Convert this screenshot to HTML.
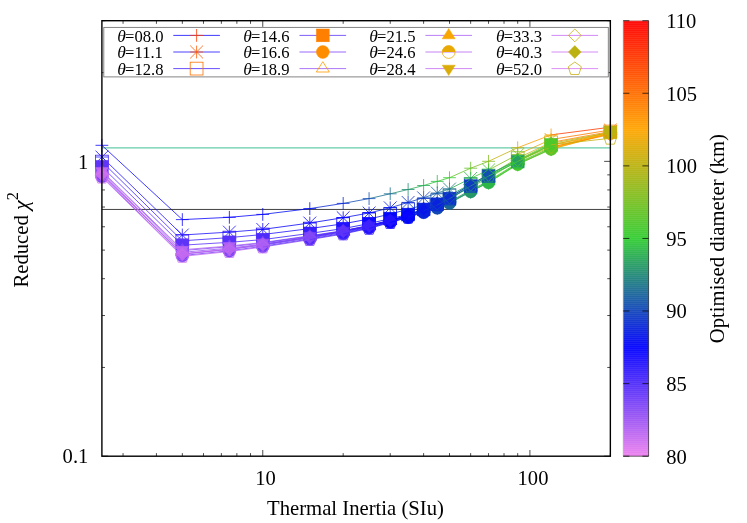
<!DOCTYPE html>
<html><head><meta charset="utf-8"><title>chart</title>
<style>html,body{margin:0;padding:0;background:#fff}svg{display:block;will-change:transform}text{font-family:"Liberation Serif",serif;fill:#000}</style></head><body>
<svg width="747" height="523" viewBox="0 0 747 523">
<rect width="747" height="523" fill="#fff"/>
<path d="M123.05 456.20v-3.10M123.05 20.70v3.10M156.43 456.20v-3.10M156.43 20.70v3.10M182.33 456.20v-3.10M182.33 20.70v3.10M203.48 456.20v-3.10M203.48 20.70v3.10M221.37 456.20v-3.10M221.37 20.70v3.10M236.86 456.20v-3.10M236.86 20.70v3.10M250.53 456.20v-3.10M250.53 20.70v3.10M262.75 456.20v-6.20M262.75 20.70v6.20M343.18 456.20v-3.10M343.18 20.70v3.10M390.23 456.20v-3.10M390.23 20.70v3.10M423.61 456.20v-3.10M423.61 20.70v3.10M449.50 456.20v-3.10M449.50 20.70v3.10M470.65 456.20v-3.10M470.65 20.70v3.10M488.54 456.20v-3.10M488.54 20.70v3.10M504.03 456.20v-3.10M504.03 20.70v3.10M517.70 456.20v-3.10M517.70 20.70v3.10M529.92 456.20v-6.20M529.92 20.70v6.20M610.35 456.20v-3.10M610.35 20.70v3.10M101.90 456.20h6.20M610.35 456.20h-6.20M101.90 367.45h3.10M610.35 367.45h-3.10M101.90 315.53h3.10M610.35 315.53h-3.10M101.90 278.69h3.10M610.35 278.69h-3.10M101.90 250.12h3.10M610.35 250.12h-3.10M101.90 226.78h3.10M610.35 226.78h-3.10M101.90 207.04h3.10M610.35 207.04h-3.10M101.90 189.94h3.10M610.35 189.94h-3.10M101.90 174.86h3.10M610.35 174.86h-3.10M101.90 161.37h6.20M610.35 161.37h-6.20M101.90 72.62h3.10M610.35 72.62h-3.10M101.90 20.70h3.10M610.35 20.70h-3.10" stroke="#000" stroke-width="0.7" fill="none"/>
<path d="M101.90 147.9H610.35" stroke="#66cdaa" stroke-width="1.35" fill="none"/>
<path d="M101.90 209.45H610.35" stroke="#000" stroke-width="0.75" fill="none"/>
<rect x="103.8" y="27.4" width="504.5" height="49.5" fill="#fff" stroke="#777" stroke-width="0.9"/>
<text x="117.3" y="41.5" font-size="16.6"><tspan font-style="italic" font-size="17.5">θ</tspan><tspan dx="-0.8">=08.0</tspan></text>
<path d="M173.3 35.4H219.9" stroke="#1009fe" stroke-width="0.8" fill="none"/>
<path fill="none" stroke="#ff3b00" stroke-width="0.8" d="M190.2 35.4H203M196.6 29V41.8"/>
<text x="117.3" y="58.1" font-size="16.6"><tspan font-style="italic" font-size="17.5">θ</tspan><tspan dx="-0.8">=11.1</tspan></text>
<path d="M173.3 52.0H219.9" stroke="#2011fd" stroke-width="0.8" fill="none"/>
<path fill="none" stroke="#ff5800" stroke-width="0.8" d="M190.2 52H203M196.6 45.6V58.4M190.2 45.6L203 58.4M190.2 58.4L203 45.6"/>
<text x="117.3" y="74.7" font-size="16.6"><tspan font-style="italic" font-size="17.5">θ</tspan><tspan dx="-0.8">=12.8</tspan></text>
<path d="M173.3 68.6H219.9" stroke="#4023fa" stroke-width="0.8" fill="none"/>
<rect fill="none" stroke="#ff7200" stroke-width="0.8" x="190.2" y="62.2" width="12.8" height="12.8"/>
<text x="243.3" y="41.5" font-size="16.6"><tspan font-style="italic" font-size="17.5">θ</tspan><tspan dx="-0.8">=14.6</tspan></text>
<path d="M299.5 35.4H346.1" stroke="#6135f8" stroke-width="0.8" fill="none"/>
<rect fill="#ff8000" stroke="#ff8000" stroke-width="0.48" x="316.4" y="29" width="12.8" height="12.8"/>
<text x="243.3" y="58.1" font-size="16.6"><tspan font-style="italic" font-size="17.5">θ</tspan><tspan dx="-0.8">=16.6</tspan></text>
<path d="M299.5 52.0H346.1" stroke="#7e45f6" stroke-width="0.8" fill="none"/>
<circle fill="#ff8d00" stroke="#ff8d00" stroke-width="0.48" cx="322.8" cy="52" r="6.4"/>
<text x="243.3" y="74.7" font-size="16.6"><tspan font-style="italic" font-size="17.5">θ</tspan><tspan dx="-0.8">=18.9</tspan></text>
<path d="M299.5 68.6H346.1" stroke="#9753f4" stroke-width="0.8" fill="none"/>
<path fill="none" stroke="#ff9a00" stroke-width="0.8" d="M322.8 61.7L316.3 72L329.3 72Z"/>
<text x="369.3" y="41.5" font-size="16.6"><tspan font-style="italic" font-size="17.5">θ</tspan><tspan dx="-0.8">=21.5</tspan></text>
<path d="M425.4 35.4H472.0" stroke="#ab5df3" stroke-width="0.8" fill="none"/>
<path fill="#faa601" stroke="#faa601" stroke-width="0.48" d="M448.7 28.5L442.2 38.8L455.2 38.8Z"/>
<text x="369.3" y="58.1" font-size="16.6"><tspan font-style="italic" font-size="17.5">θ</tspan><tspan dx="-0.8">=24.6</tspan></text>
<path d="M425.4 52.0H472.0" stroke="#b864f2" stroke-width="0.8" fill="none"/>
<circle fill="none" stroke="#e9a905" stroke-width="0.8" cx="448.7" cy="52" r="6.4"/><path fill="#e9a905" d="M442.3 52A6.4 6.4 0 0 1 455.1 52Z"/>
<text x="369.3" y="74.7" font-size="16.6"><tspan font-style="italic" font-size="17.5">θ</tspan><tspan dx="-0.8">=28.4</tspan></text>
<path d="M425.4 68.6H472.0" stroke="#c169f1" stroke-width="0.8" fill="none"/>
<path fill="#dbac09" stroke="#dbac09" stroke-width="0.48" d="M448.7 75.5L442.2 65.2L455.2 65.2Z"/>
<text x="495.9" y="41.5" font-size="16.6"><tspan font-style="italic" font-size="17.5">θ</tspan><tspan dx="-0.8">=33.3</tspan></text>
<path d="M551.5 35.4H598.1" stroke="#c66cf1" stroke-width="0.8" fill="none"/>
<path fill="none" stroke="#ceaf0c" stroke-width="0.8" d="M574.8 29L581.2 35.4L574.8 41.8L568.4 35.4Z"/>
<text x="495.9" y="58.1" font-size="16.6"><tspan font-style="italic" font-size="17.5">θ</tspan><tspan dx="-0.8">=40.3</tspan></text>
<path d="M551.5 52.0H598.1" stroke="#ca6ef1" stroke-width="0.8" fill="none"/>
<path fill="#bbb211" stroke="#bbb211" stroke-width="0.48" d="M574.8 45.6L581.2 52L574.8 58.4L568.4 52Z"/>
<text x="495.9" y="74.7" font-size="16.6"><tspan font-style="italic" font-size="17.5">θ</tspan><tspan dx="-0.8">=52.0</tspan></text>
<path d="M551.5 68.6H598.1" stroke="#d574f0" stroke-width="0.8" fill="none"/>
<path fill="none" stroke="#c6b00e" stroke-width="0.8" d="M574.8 62L581.36 66.77L578.86 74.48L570.74 74.48L568.24 66.77Z"/>
<g fill="none" stroke-width="0.8"><path d="M101.90 145.30L182.33 219.60" stroke="#1009fe"/><path d="M182.33 219.60L229.37 217.30" stroke="#0a05fe"/><path d="M229.37 217.30L262.75 214.40" stroke="#0302ff"/><path d="M262.75 214.40L309.80 208.60" stroke="#030ef1"/><path d="M309.80 208.60L343.18 203.40" stroke="#0a29d6"/><path d="M343.18 203.40L369.07 198.60" stroke="#134db2"/><path d="M369.07 198.60L390.23 193.80" stroke="#1b6d92"/><path d="M390.23 193.80L408.11 189.50" stroke="#238e71"/><path d="M408.11 189.50L423.61 185.50" stroke="#29a956"/><path d="M423.61 185.50L437.27 181.40" stroke="#2fbf40"/><path d="M437.27 181.40L449.50 177.70" stroke="#3acb30"/><path d="M449.50 177.70L470.65 168.20" stroke="#63c326"/><path d="M470.65 168.20L488.54 161.30" stroke="#84bd1e"/><path d="M488.54 161.30L517.70 147.70" stroke="#c8b00d"/><path d="M517.70 147.70L551.08 134.90" stroke="#ff9e00"/><path d="M551.08 134.90L610.35 127.20" stroke="#ff3b00"/></g>
<path fill="none" stroke="#1009fe" stroke-width="0.8" d="M95.5 145.3H108.3M101.9 138.9V151.7"/>
<path fill="none" stroke="#1009fe" stroke-width="0.8" d="M175.93 219.6H188.73M182.33 213.2V226"/>
<path fill="none" stroke="#0a05fe" stroke-width="0.8" d="M222.97 217.3H235.77M229.37 210.9V223.7"/>
<path fill="none" stroke="#0302ff" stroke-width="0.8" d="M256.35 214.4H269.15M262.75 208V220.8"/>
<path fill="none" stroke="#030ef1" stroke-width="0.8" d="M303.4 208.6H316.2M309.8 202.2V215"/>
<path fill="none" stroke="#0a29d6" stroke-width="0.8" d="M336.78 203.4H349.58M343.18 197V209.8"/>
<path fill="none" stroke="#134db2" stroke-width="0.8" d="M362.67 198.6H375.47M369.07 192.2V205"/>
<path fill="none" stroke="#1b6d92" stroke-width="0.8" d="M383.83 193.8H396.63M390.23 187.4V200.2"/>
<path fill="none" stroke="#238e71" stroke-width="0.8" d="M401.71 189.5H414.51M408.11 183.1V195.9"/>
<path fill="none" stroke="#29a956" stroke-width="0.8" d="M417.21 185.5H430.01M423.61 179.1V191.9"/>
<path fill="none" stroke="#2fbf40" stroke-width="0.8" d="M430.87 181.4H443.67M437.27 175V187.8"/>
<path fill="none" stroke="#3acb30" stroke-width="0.8" d="M443.1 177.7H455.9M449.5 171.3V184.1"/>
<path fill="none" stroke="#63c326" stroke-width="0.8" d="M464.25 168.2H477.05M470.65 161.8V174.6"/>
<path fill="none" stroke="#84bd1e" stroke-width="0.8" d="M482.14 161.3H494.94M488.54 154.9V167.7"/>
<path fill="none" stroke="#c8b00d" stroke-width="0.8" d="M511.3 147.7H524.1M517.7 141.3V154.1"/>
<path fill="none" stroke="#ff9e00" stroke-width="0.8" d="M544.68 134.9H557.48M551.08 128.5V141.3"/>
<path fill="none" stroke="#ff3b00" stroke-width="0.8" d="M603.95 127.2H616.75M610.35 120.8V133.6"/>
<g fill="none" stroke-width="0.8"><path d="M101.90 157.00L182.33 235.00" stroke="#2011fd"/><path d="M182.33 235.00L229.37 232.10" stroke="#1d10fd"/><path d="M229.37 232.10L262.75 229.40" stroke="#160cfd"/><path d="M262.75 229.40L309.80 223.00" stroke="#0a05fe"/><path d="M309.80 223.00L343.18 217.70" stroke="#0103fc"/><path d="M343.18 217.70L369.07 213.00" stroke="#030ef1"/><path d="M369.07 213.00L390.23 207.80" stroke="#071ee1"/><path d="M390.23 207.80L408.11 202.40" stroke="#0c31ce"/><path d="M408.11 202.40L423.61 197.80" stroke="#1144bb"/><path d="M423.61 197.80L437.27 193.00" stroke="#17609f"/><path d="M437.27 193.00L449.50 189.00" stroke="#1e7b84"/><path d="M449.50 189.00L470.65 178.40" stroke="#2bb24d"/><path d="M470.65 178.40L488.54 170.00" stroke="#40ca2f"/><path d="M488.54 170.00L517.70 154.50" stroke="#89bc1d"/><path d="M517.70 154.50L551.08 139.50" stroke="#e4aa07"/><path d="M551.08 139.50L610.35 130.00" stroke="#ff7700"/></g>
<path fill="none" stroke="#2011fd" stroke-width="0.8" d="M95.5 157H108.3M101.9 150.6V163.4M95.5 150.6L108.3 163.4M95.5 163.4L108.3 150.6"/>
<path fill="none" stroke="#2011fd" stroke-width="0.8" d="M175.93 235H188.73M182.33 228.6V241.4M175.93 228.6L188.73 241.4M175.93 241.4L188.73 228.6"/>
<path fill="none" stroke="#1d10fd" stroke-width="0.8" d="M222.97 232.1H235.77M229.37 225.7V238.5M222.97 225.7L235.77 238.5M222.97 238.5L235.77 225.7"/>
<path fill="none" stroke="#160cfd" stroke-width="0.8" d="M256.35 229.4H269.15M262.75 223V235.8M256.35 223L269.15 235.8M256.35 235.8L269.15 223"/>
<path fill="none" stroke="#0a05fe" stroke-width="0.8" d="M303.4 223H316.2M309.8 216.6V229.4M303.4 216.6L316.2 229.4M303.4 229.4L316.2 216.6"/>
<path fill="none" stroke="#0103fc" stroke-width="0.8" d="M336.78 217.7H349.58M343.18 211.3V224.1M336.78 211.3L349.58 224.1M336.78 224.1L349.58 211.3"/>
<path fill="none" stroke="#030ef1" stroke-width="0.8" d="M362.67 213H375.47M369.07 206.6V219.4M362.67 206.6L375.47 219.4M362.67 219.4L375.47 206.6"/>
<path fill="none" stroke="#071ee1" stroke-width="0.8" d="M383.83 207.8H396.63M390.23 201.4V214.2M383.83 201.4L396.63 214.2M383.83 214.2L396.63 201.4"/>
<path fill="none" stroke="#0c31ce" stroke-width="0.8" d="M401.71 202.4H414.51M408.11 196V208.8M401.71 196L414.51 208.8M401.71 208.8L414.51 196"/>
<path fill="none" stroke="#1144bb" stroke-width="0.8" d="M417.21 197.8H430.01M423.61 191.4V204.2M417.21 191.4L430.01 204.2M417.21 204.2L430.01 191.4"/>
<path fill="none" stroke="#17609f" stroke-width="0.8" d="M430.87 193H443.67M437.27 186.6V199.4M430.87 186.6L443.67 199.4M430.87 199.4L443.67 186.6"/>
<path fill="none" stroke="#1e7b84" stroke-width="0.8" d="M443.1 189H455.9M449.5 182.6V195.4M443.1 182.6L455.9 195.4M443.1 195.4L455.9 182.6"/>
<path fill="none" stroke="#2bb24d" stroke-width="0.8" d="M464.25 178.4H477.05M470.65 172V184.8M464.25 172L477.05 184.8M464.25 184.8L477.05 172"/>
<path fill="none" stroke="#40ca2f" stroke-width="0.8" d="M482.14 170H494.94M488.54 163.6V176.4M482.14 163.6L494.94 176.4M482.14 176.4L494.94 163.6"/>
<path fill="none" stroke="#89bc1d" stroke-width="0.8" d="M511.3 154.5H524.1M517.7 148.1V160.9M511.3 148.1L524.1 160.9M511.3 160.9L524.1 148.1"/>
<path fill="none" stroke="#e4aa07" stroke-width="0.8" d="M544.68 139.5H557.48M551.08 133.1V145.9M544.68 133.1L557.48 145.9M544.68 145.9L557.48 133.1"/>
<path fill="none" stroke="#ff7700" stroke-width="0.8" d="M603.95 130H616.75M610.35 123.6V136.4M603.95 123.6L616.75 136.4M603.95 136.4L616.75 123.6"/>
<g fill="none" stroke-width="0.8"><path d="M101.90 161.60L182.33 240.80" stroke="#3f22fb"/><path d="M182.33 240.80L229.37 237.60" stroke="#3a20fb"/><path d="M229.37 237.60L262.75 234.50" stroke="#331cfb"/><path d="M262.75 234.50L309.80 228.60" stroke="#2012fd"/><path d="M309.80 228.60L343.18 223.80" stroke="#0f08fe"/><path d="M343.18 223.80L369.07 219.00" stroke="#0001fe"/><path d="M369.07 219.00L390.23 214.00" stroke="#0513ec"/><path d="M390.23 214.00L408.11 209.30" stroke="#0925da"/><path d="M408.11 209.30L423.61 205.00" stroke="#0d37c8"/><path d="M423.61 205.00L437.27 200.20" stroke="#1450af"/><path d="M437.27 200.20L449.50 195.40" stroke="#1a6b94"/><path d="M449.50 195.40L470.65 184.00" stroke="#27a15e"/><path d="M470.65 184.00L488.54 175.50" stroke="#31ca35"/><path d="M488.54 175.50L517.70 158.20" stroke="#79bf21"/><path d="M517.70 158.20L551.08 142.40" stroke="#d3ae0b"/><path d="M551.08 142.40L610.35 131.50" stroke="#ff8400"/></g>
<rect fill="none" stroke="#4023fa" stroke-width="0.8" x="95.5" y="155.2" width="12.8" height="12.8"/>
<rect fill="none" stroke="#3f22fb" stroke-width="0.8" x="175.93" y="234.4" width="12.8" height="12.8"/>
<rect fill="none" stroke="#3a20fb" stroke-width="0.8" x="222.97" y="231.2" width="12.8" height="12.8"/>
<rect fill="none" stroke="#331cfb" stroke-width="0.8" x="256.35" y="228.1" width="12.8" height="12.8"/>
<rect fill="none" stroke="#2012fd" stroke-width="0.8" x="303.4" y="222.2" width="12.8" height="12.8"/>
<rect fill="none" stroke="#0f08fe" stroke-width="0.8" x="336.78" y="217.4" width="12.8" height="12.8"/>
<rect fill="none" stroke="#0001fe" stroke-width="0.8" x="362.67" y="212.6" width="12.8" height="12.8"/>
<rect fill="none" stroke="#0513ec" stroke-width="0.8" x="383.83" y="207.6" width="12.8" height="12.8"/>
<rect fill="none" stroke="#0925da" stroke-width="0.8" x="401.71" y="202.9" width="12.8" height="12.8"/>
<rect fill="none" stroke="#0d37c8" stroke-width="0.8" x="417.21" y="198.6" width="12.8" height="12.8"/>
<rect fill="none" stroke="#1450af" stroke-width="0.8" x="430.87" y="193.8" width="12.8" height="12.8"/>
<rect fill="none" stroke="#1a6b94" stroke-width="0.8" x="443.1" y="189" width="12.8" height="12.8"/>
<rect fill="none" stroke="#27a15e" stroke-width="0.8" x="464.25" y="177.6" width="12.8" height="12.8"/>
<rect fill="none" stroke="#31ca35" stroke-width="0.8" x="482.14" y="169.1" width="12.8" height="12.8"/>
<rect fill="none" stroke="#79bf21" stroke-width="0.8" x="511.3" y="151.8" width="12.8" height="12.8"/>
<rect fill="none" stroke="#d3ae0b" stroke-width="0.8" x="544.68" y="136" width="12.8" height="12.8"/>
<rect fill="none" stroke="#ff8400" stroke-width="0.8" x="603.95" y="125.1" width="12.8" height="12.8"/>
<g fill="none" stroke-width="0.8"><path d="M101.90 166.80L182.33 245.20" stroke="#5d33f8"/><path d="M182.33 245.20L229.37 242.30" stroke="#5830f9"/><path d="M229.37 242.30L262.75 239.60" stroke="#4f2bf9"/><path d="M262.75 239.60L309.80 233.40" stroke="#371efb"/><path d="M309.80 233.40L343.18 228.60" stroke="#2112fd"/><path d="M343.18 228.60L369.07 223.60" stroke="#0e08fe"/><path d="M369.07 223.60L390.23 218.60" stroke="#0208f7"/><path d="M390.23 218.60L408.11 214.55" stroke="#0412ed"/><path d="M408.11 214.55L423.61 209.44" stroke="#0820df"/><path d="M423.61 209.44L437.27 204.29" stroke="#0a29d6"/><path d="M437.27 204.29L449.50 198.58" stroke="#0c30cf"/><path d="M449.50 198.58L470.65 186.10" stroke="#0f3cc3"/><path d="M470.65 186.10L488.54 176.20" stroke="#134fb0"/><path d="M488.54 176.20L517.70 161.60" stroke="#279f60"/><path d="M517.70 161.60L551.08 144.90" stroke="#4dc82b"/><path d="M551.08 144.90L610.35 132.40" stroke="#bbb211"/></g>
<rect fill="#6135f8" stroke="#6135f8" stroke-width="0.48" x="95.5" y="160.4" width="12.8" height="12.8"/>
<rect fill="#5d33f8" stroke="#5d33f8" stroke-width="0.48" x="175.93" y="238.8" width="12.8" height="12.8"/>
<rect fill="#5830f9" stroke="#5830f9" stroke-width="0.48" x="222.97" y="235.9" width="12.8" height="12.8"/>
<rect fill="#4f2bf9" stroke="#4f2bf9" stroke-width="0.48" x="256.35" y="233.2" width="12.8" height="12.8"/>
<rect fill="#371efb" stroke="#371efb" stroke-width="0.48" x="303.4" y="227" width="12.8" height="12.8"/>
<rect fill="#2112fd" stroke="#2112fd" stroke-width="0.48" x="336.78" y="222.2" width="12.8" height="12.8"/>
<rect fill="#0e08fe" stroke="#0e08fe" stroke-width="0.48" x="362.67" y="217.2" width="12.8" height="12.8"/>
<rect fill="#0208f7" stroke="#0208f7" stroke-width="0.48" x="383.83" y="212.2" width="12.8" height="12.8"/>
<rect fill="#0412ed" stroke="#0412ed" stroke-width="0.48" x="401.71" y="208.15" width="12.8" height="12.8"/>
<g fill="none" stroke-width="0.8"><path d="M101.90 176.40L182.33 255.57" stroke="#7942f6"/><path d="M182.33 255.57L229.37 250.75" stroke="#723ef7"/><path d="M229.37 250.75L262.75 246.32" stroke="#6939f8"/><path d="M262.75 246.32L309.80 238.97" stroke="#4c29fa"/><path d="M309.80 238.97L343.18 233.40" stroke="#321bfb"/><path d="M343.18 233.40L369.07 227.82" stroke="#1b0ffd"/><path d="M369.07 227.82L390.23 222.06" stroke="#0101ff"/><path d="M390.23 222.06L408.11 217.30" stroke="#0514eb"/><path d="M408.11 217.30L423.61 212.34" stroke="#0b2fd0"/><path d="M423.61 212.34L437.27 207.87" stroke="#134cb3"/><path d="M437.27 207.87L449.50 203.09" stroke="#1a6996"/><path d="M449.50 203.09L470.65 191.50" stroke="#259669"/><path d="M470.65 191.50L488.54 182.40" stroke="#2db748"/><path d="M488.54 182.40L517.70 164.20" stroke="#45c92d"/><path d="M517.70 164.20L551.08 149.00" stroke="#5ec427"/><path d="M551.08 149.00L610.35 133.20" stroke="#f7a702"/></g>
<circle fill="#7e45f6" stroke="#7e45f6" stroke-width="0.48" cx="101.9" cy="176.4" r="6.4"/>
<circle fill="#7942f6" stroke="#7942f6" stroke-width="0.48" cx="182.33" cy="255.57" r="6.4"/>
<circle fill="#723ef7" stroke="#723ef7" stroke-width="0.48" cx="229.37" cy="250.75" r="6.4"/>
<circle fill="#6939f8" stroke="#6939f8" stroke-width="0.48" cx="262.75" cy="246.32" r="6.4"/>
<circle fill="#4c29fa" stroke="#4c29fa" stroke-width="0.48" cx="309.8" cy="238.97" r="6.4"/>
<circle fill="#321bfb" stroke="#321bfb" stroke-width="0.48" cx="343.18" cy="233.4" r="6.4"/>
<circle fill="#1b0ffd" stroke="#1b0ffd" stroke-width="0.48" cx="369.07" cy="227.82" r="6.4"/>
<circle fill="#0101ff" stroke="#0101ff" stroke-width="0.48" cx="390.23" cy="222.06" r="6.4"/>
<circle fill="#0514eb" stroke="#0514eb" stroke-width="0.48" cx="408.11" cy="217.3" r="6.4"/>
<circle fill="#0b2fd0" stroke="#0b2fd0" stroke-width="0.48" cx="423.61" cy="212.34" r="6.4"/>
<circle fill="#134cb3" stroke="#134cb3" stroke-width="0.48" cx="437.27" cy="207.87" r="6.4"/>
<circle fill="#1a6996" stroke="#1a6996" stroke-width="0.48" cx="449.5" cy="203.09" r="6.4"/>
<circle fill="#259669" stroke="#259669" stroke-width="0.48" cx="470.65" cy="191.5" r="6.4"/>
<circle fill="#2db748" stroke="#2db748" stroke-width="0.48" cx="488.54" cy="182.4" r="6.4"/>
<circle fill="#45c92d" stroke="#45c92d" stroke-width="0.48" cx="517.7" cy="164.2" r="6.4"/>
<circle fill="#5ec427" stroke="#5ec427" stroke-width="0.48" cx="551.08" cy="149" r="6.4"/>
<circle fill="#f7a702" stroke="#f7a702" stroke-width="0.48" cx="610.35" cy="133.2" r="6.4"/>
<g fill="none" stroke-width="0.8"><path d="M101.90 171.80L182.33 250.60" stroke="#914ff5"/><path d="M182.33 250.60L229.37 246.70" stroke="#894bf5"/><path d="M229.37 246.70L262.75 243.10" stroke="#7f45f6"/><path d="M262.75 243.10L309.80 236.30" stroke="#5d33f8"/><path d="M309.80 236.30L343.18 231.10" stroke="#4023fa"/><path d="M343.18 231.10L369.07 225.80" stroke="#2715fc"/><path d="M369.07 225.80L390.23 220.40" stroke="#0b06fe"/><path d="M390.23 220.40L408.11 214.69" stroke="#0513ec"/><path d="M408.11 214.69L423.61 209.00" stroke="#0d36c9"/><path d="M423.61 209.00L437.27 203.81" stroke="#1557a8"/><path d="M437.27 203.81L449.50 198.68" stroke="#1d7788"/><path d="M449.50 198.68L470.65 186.95" stroke="#29a758"/><path d="M470.65 186.95L488.54 178.15" stroke="#31c837"/><path d="M488.54 178.15L517.70 160.40" stroke="#56c629"/><path d="M517.70 160.40L551.08 144.90" stroke="#6ec123"/><path d="M551.08 144.90L610.35 133.90" stroke="#ff9e00"/></g>
<path fill="none" stroke="#9753f4" stroke-width="0.8" d="M101.9 164.9L95.4 175.2L108.4 175.2Z"/>
<path fill="none" stroke="#914ff5" stroke-width="0.8" d="M182.33 243.7L175.83 254L188.83 254Z"/>
<path fill="none" stroke="#894bf5" stroke-width="0.8" d="M229.37 239.8L222.87 250.1L235.87 250.1Z"/>
<path fill="none" stroke="#7f45f6" stroke-width="0.8" d="M262.75 236.2L256.25 246.5L269.25 246.5Z"/>
<path fill="none" stroke="#5d33f8" stroke-width="0.8" d="M309.8 229.4L303.3 239.7L316.3 239.7Z"/>
<path fill="none" stroke="#4023fa" stroke-width="0.8" d="M343.18 224.2L336.68 234.5L349.68 234.5Z"/>
<path fill="none" stroke="#2715fc" stroke-width="0.8" d="M369.07 218.9L362.57 229.2L375.57 229.2Z"/>
<path fill="none" stroke="#0b06fe" stroke-width="0.8" d="M390.23 213.5L383.73 223.8L396.73 223.8Z"/>
<path fill="none" stroke="#0513ec" stroke-width="0.8" d="M408.11 207.78L401.61 218.09L414.61 218.09Z"/>
<path fill="none" stroke="#0d36c9" stroke-width="0.8" d="M423.61 202.1L417.11 212.4L430.11 212.4Z"/>
<path fill="none" stroke="#1557a8" stroke-width="0.8" d="M437.27 196.91L430.77 207.22L443.77 207.22Z"/>
<path fill="none" stroke="#1d7788" stroke-width="0.8" d="M449.5 191.78L443 202.08L456 202.08Z"/>
<path fill="none" stroke="#29a758" stroke-width="0.8" d="M470.65 180.05L464.15 190.35L477.15 190.35Z"/>
<path fill="none" stroke="#31c837" stroke-width="0.8" d="M488.54 171.25L482.04 181.55L495.04 181.55Z"/>
<path fill="none" stroke="#56c629" stroke-width="0.8" d="M517.7 153.5L511.2 163.8L524.2 163.8Z"/>
<path fill="none" stroke="#6ec123" stroke-width="0.8" d="M551.08 138L544.58 148.3L557.58 148.3Z"/>
<path fill="none" stroke="#ff9e00" stroke-width="0.8" d="M610.35 127L603.85 137.3L616.85 137.3Z"/>
<g fill="none" stroke-width="0.8"><path d="M101.90 173.40L182.33 252.33" stroke="#a459f3"/><path d="M182.33 252.33L229.37 248.11" stroke="#9c55f4"/><path d="M229.37 248.11L262.75 244.22" stroke="#904ff5"/><path d="M262.75 244.22L309.80 237.23" stroke="#6b3bf7"/><path d="M309.80 237.23L343.18 231.90" stroke="#4b29fa"/><path d="M343.18 231.90L369.07 226.50" stroke="#301afc"/><path d="M369.07 226.50L390.23 220.98" stroke="#130afe"/><path d="M390.23 220.98L408.11 216.12" stroke="#020af5"/><path d="M408.11 216.12L423.61 211.08" stroke="#0a2ad5"/><path d="M423.61 211.08L437.27 206.53" stroke="#1249b6"/><path d="M437.27 206.53L449.50 201.71" stroke="#196798"/><path d="M449.50 201.71L470.65 190.10" stroke="#259669"/><path d="M470.65 190.10L488.54 181.00" stroke="#2db748"/><path d="M488.54 181.00L517.70 162.80" stroke="#45c92d"/><path d="M517.70 162.80L551.08 147.60" stroke="#5ec427"/><path d="M551.08 147.60L610.35 131.80" stroke="#f7a702"/></g>
<path fill="#ab5df3" stroke="#ab5df3" stroke-width="0.48" d="M101.9 166.5L95.4 176.8L108.4 176.8Z"/>
<path fill="#a459f3" stroke="#a459f3" stroke-width="0.48" d="M182.33 245.43L175.83 255.73L188.83 255.73Z"/>
<path fill="#9c55f4" stroke="#9c55f4" stroke-width="0.48" d="M229.37 241.21L222.87 251.51L235.87 251.51Z"/>
<path fill="#904ff5" stroke="#904ff5" stroke-width="0.48" d="M262.75 237.32L256.25 247.62L269.25 247.62Z"/>
<path fill="#6b3bf7" stroke="#6b3bf7" stroke-width="0.48" d="M309.8 230.33L303.3 240.63L316.3 240.63Z"/>
<path fill="#4b29fa" stroke="#4b29fa" stroke-width="0.48" d="M343.18 225L336.68 235.3L349.68 235.3Z"/>
<path fill="#301afc" stroke="#301afc" stroke-width="0.48" d="M369.07 219.6L362.57 229.9L375.57 229.9Z"/>
<path fill="#130afe" stroke="#130afe" stroke-width="0.48" d="M390.23 214.08L383.73 224.38L396.73 224.38Z"/>
<path fill="#020af5" stroke="#020af5" stroke-width="0.48" d="M408.11 209.22L401.61 219.52L414.61 219.52Z"/>
<path fill="#0a2ad5" stroke="#0a2ad5" stroke-width="0.48" d="M423.61 204.18L417.11 214.48L430.11 214.48Z"/>
<path fill="#1249b6" stroke="#1249b6" stroke-width="0.48" d="M437.27 199.63L430.77 209.93L443.77 209.93Z"/>
<path fill="#196798" stroke="#196798" stroke-width="0.48" d="M449.5 194.81L443 205.11L456 205.11Z"/>
<path fill="#259669" stroke="#259669" stroke-width="0.48" d="M470.65 183.2L464.15 193.5L477.15 193.5Z"/>
<path fill="#2db748" stroke="#2db748" stroke-width="0.48" d="M488.54 174.1L482.04 184.4L495.04 184.4Z"/>
<path fill="#45c92d" stroke="#45c92d" stroke-width="0.48" d="M517.7 155.9L511.2 166.2L524.2 166.2Z"/>
<path fill="#5ec427" stroke="#5ec427" stroke-width="0.48" d="M551.08 140.7L544.58 151L557.58 151Z"/>
<path fill="#f7a702" stroke="#f7a702" stroke-width="0.48" d="M610.35 124.9L603.85 135.2L616.85 135.2Z"/>
<g fill="none" stroke-width="0.8"><path d="M101.90 174.80L182.33 253.84" stroke="#b060f2"/><path d="M182.33 253.84L229.37 249.34" stroke="#a75bf3"/><path d="M229.37 249.34L262.75 245.20" stroke="#9b55f4"/><path d="M262.75 245.20L309.80 238.04" stroke="#743ff7"/><path d="M309.80 238.04L343.18 232.60" stroke="#522df9"/><path d="M343.18 232.60L369.07 227.12" stroke="#351dfb"/><path d="M369.07 227.12L390.23 221.48" stroke="#180dfd"/><path d="M390.23 221.48L408.11 216.72" stroke="#0207f8"/><path d="M408.11 216.72L423.61 211.76" stroke="#0a28d7"/><path d="M423.61 211.76L437.27 207.27" stroke="#1248b7"/><path d="M437.27 207.27L449.50 202.49" stroke="#196798"/><path d="M449.50 202.49L470.65 190.90" stroke="#259669"/><path d="M470.65 190.90L488.54 181.80" stroke="#2db748"/><path d="M488.54 181.80L517.70 163.60" stroke="#45c92d"/><path d="M517.70 163.60L551.08 148.40" stroke="#5ec427"/><path d="M551.08 148.40L610.35 132.60" stroke="#f7a702"/></g>
<circle fill="none" stroke="#b864f2" stroke-width="0.8" cx="101.9" cy="174.8" r="6.4"/><path fill="#b864f2" d="M95.5 174.8A6.4 6.4 0 0 1 108.3 174.8Z"/>
<circle fill="none" stroke="#b060f2" stroke-width="0.8" cx="182.33" cy="253.84" r="6.4"/><path fill="#b060f2" d="M175.93 253.84A6.4 6.4 0 0 1 188.73 253.84Z"/>
<circle fill="none" stroke="#a75bf3" stroke-width="0.8" cx="229.37" cy="249.34" r="6.4"/><path fill="#a75bf3" d="M222.97 249.34A6.4 6.4 0 0 1 235.77 249.34Z"/>
<circle fill="none" stroke="#9b55f4" stroke-width="0.8" cx="262.75" cy="245.2" r="6.4"/><path fill="#9b55f4" d="M256.35 245.2A6.4 6.4 0 0 1 269.15 245.2Z"/>
<circle fill="none" stroke="#743ff7" stroke-width="0.8" cx="309.8" cy="238.04" r="6.4"/><path fill="#743ff7" d="M303.4 238.04A6.4 6.4 0 0 1 316.2 238.04Z"/>
<circle fill="none" stroke="#522df9" stroke-width="0.8" cx="343.18" cy="232.6" r="6.4"/><path fill="#522df9" d="M336.78 232.6A6.4 6.4 0 0 1 349.58 232.6Z"/>
<circle fill="none" stroke="#351dfb" stroke-width="0.8" cx="369.07" cy="227.12" r="6.4"/><path fill="#351dfb" d="M362.67 227.12A6.4 6.4 0 0 1 375.47 227.12Z"/>
<circle fill="none" stroke="#180dfd" stroke-width="0.8" cx="390.23" cy="221.48" r="6.4"/><path fill="#180dfd" d="M383.83 221.48A6.4 6.4 0 0 1 396.63 221.48Z"/>
<circle fill="none" stroke="#0207f8" stroke-width="0.8" cx="408.11" cy="216.72" r="6.4"/><path fill="#0207f8" d="M401.71 216.72A6.4 6.4 0 0 1 414.51 216.72Z"/>
<circle fill="none" stroke="#0a28d7" stroke-width="0.8" cx="423.61" cy="211.76" r="6.4"/><path fill="#0a28d7" d="M417.21 211.76A6.4 6.4 0 0 1 430.01 211.76Z"/>
<circle fill="none" stroke="#1248b7" stroke-width="0.8" cx="437.27" cy="207.27" r="6.4"/><path fill="#1248b7" d="M430.87 207.27A6.4 6.4 0 0 1 443.67 207.27Z"/>
<circle fill="none" stroke="#196798" stroke-width="0.8" cx="449.5" cy="202.49" r="6.4"/><path fill="#196798" d="M443.1 202.49A6.4 6.4 0 0 1 455.9 202.49Z"/>
<circle fill="none" stroke="#259669" stroke-width="0.8" cx="470.65" cy="190.9" r="6.4"/><path fill="#259669" d="M464.25 190.9A6.4 6.4 0 0 1 477.05 190.9Z"/>
<circle fill="none" stroke="#2db748" stroke-width="0.8" cx="488.54" cy="181.8" r="6.4"/><path fill="#2db748" d="M482.14 181.8A6.4 6.4 0 0 1 494.94 181.8Z"/>
<circle fill="none" stroke="#45c92d" stroke-width="0.8" cx="517.7" cy="163.6" r="6.4"/><path fill="#45c92d" d="M511.3 163.6A6.4 6.4 0 0 1 524.1 163.6Z"/>
<circle fill="none" stroke="#5ec427" stroke-width="0.8" cx="551.08" cy="148.4" r="6.4"/><path fill="#5ec427" d="M544.68 148.4A6.4 6.4 0 0 1 557.48 148.4Z"/>
<circle fill="none" stroke="#f7a702" stroke-width="0.8" cx="610.35" cy="132.6" r="6.4"/><path fill="#f7a702" d="M603.95 132.6A6.4 6.4 0 0 1 616.75 132.6Z"/>
<g fill="none" stroke-width="0.8"><path d="M101.90 171.00L182.33 249.74" stroke="#b865f2"/><path d="M182.33 249.74L229.37 246.00" stroke="#af60f2"/><path d="M229.37 246.00L262.75 242.54" stroke="#a359f3"/><path d="M262.75 242.54L309.80 235.84" stroke="#7a43f6"/><path d="M309.80 235.84L343.18 230.70" stroke="#5730f9"/><path d="M343.18 230.70L369.07 225.45" stroke="#3a1ffb"/><path d="M369.07 225.45L390.23 220.11" stroke="#1b0ffd"/><path d="M390.23 220.11L408.11 216.00" stroke="#0105fa"/><path d="M408.11 216.00L423.61 211.71" stroke="#0a27d8"/><path d="M423.61 211.71L437.27 207.64" stroke="#1147b8"/><path d="M437.27 207.64L449.50 203.11" stroke="#196699"/><path d="M449.50 203.11L470.65 191.70" stroke="#259669"/><path d="M470.65 191.70L488.54 182.60" stroke="#2db748"/><path d="M488.54 182.60L517.70 164.40" stroke="#45c92d"/><path d="M517.70 164.40L551.08 149.20" stroke="#5ec427"/><path d="M551.08 149.20L610.35 133.40" stroke="#f7a702"/></g>
<path fill="#c169f1" stroke="#c169f1" stroke-width="0.48" d="M101.9 177.9L95.4 167.6L108.4 167.6Z"/>
<path fill="#b865f2" stroke="#b865f2" stroke-width="0.48" d="M182.33 256.64L175.83 246.34L188.83 246.34Z"/>
<path fill="#af60f2" stroke="#af60f2" stroke-width="0.48" d="M229.37 252.9L222.87 242.6L235.87 242.6Z"/>
<path fill="#a359f3" stroke="#a359f3" stroke-width="0.48" d="M262.75 249.44L256.25 239.14L269.25 239.14Z"/>
<path fill="#7a43f6" stroke="#7a43f6" stroke-width="0.48" d="M309.8 242.74L303.3 232.44L316.3 232.44Z"/>
<path fill="#5730f9" stroke="#5730f9" stroke-width="0.48" d="M343.18 237.6L336.68 227.3L349.68 227.3Z"/>
<path fill="#3a1ffb" stroke="#3a1ffb" stroke-width="0.48" d="M369.07 232.35L362.57 222.05L375.57 222.05Z"/>
<path fill="#1b0ffd" stroke="#1b0ffd" stroke-width="0.48" d="M390.23 227.01L383.73 216.71L396.73 216.71Z"/>
<path fill="#0105fa" stroke="#0105fa" stroke-width="0.48" d="M408.11 222.9L401.61 212.6L414.61 212.6Z"/>
<path fill="#0a27d8" stroke="#0a27d8" stroke-width="0.48" d="M423.61 218.61L417.11 208.31L430.11 208.31Z"/>
<path fill="#1147b8" stroke="#1147b8" stroke-width="0.48" d="M437.27 214.54L430.77 204.24L443.77 204.24Z"/>
<path fill="#196699" stroke="#196699" stroke-width="0.48" d="M449.5 210.01L443 199.71L456 199.71Z"/>
<path fill="#259669" stroke="#259669" stroke-width="0.48" d="M470.65 198.6L464.15 188.3L477.15 188.3Z"/>
<path fill="#2db748" stroke="#2db748" stroke-width="0.48" d="M488.54 189.5L482.04 179.2L495.04 179.2Z"/>
<path fill="#45c92d" stroke="#45c92d" stroke-width="0.48" d="M517.7 171.3L511.2 161L524.2 161Z"/>
<path fill="#5ec427" stroke="#5ec427" stroke-width="0.48" d="M551.08 156.1L544.58 145.8L557.58 145.8Z"/>
<path fill="#f7a702" stroke="#f7a702" stroke-width="0.48" d="M610.35 140.3L603.85 130L616.85 130Z"/>
<rect fill="#0820df" stroke="#0820df" stroke-width="0.48" x="417.21" y="203.04" width="12.8" height="12.8"/>
<rect fill="#0a29d6" stroke="#0a29d6" stroke-width="0.48" x="430.87" y="197.89" width="12.8" height="12.8"/>
<rect fill="#0c30cf" stroke="#0c30cf" stroke-width="0.48" x="443.1" y="192.18" width="12.8" height="12.8"/>
<rect fill="#0f3cc3" stroke="#0f3cc3" stroke-width="0.48" x="464.25" y="179.7" width="12.8" height="12.8"/>
<rect fill="#134fb0" stroke="#134fb0" stroke-width="0.48" x="482.14" y="169.8" width="12.8" height="12.8"/>
<rect fill="#279f60" stroke="#279f60" stroke-width="0.48" x="511.3" y="155.2" width="12.8" height="12.8"/>
<rect fill="#4dc82b" stroke="#4dc82b" stroke-width="0.48" x="544.68" y="138.5" width="12.8" height="12.8"/>
<rect fill="#bbb211" stroke="#bbb211" stroke-width="0.48" x="603.95" y="126" width="12.8" height="12.8"/>
<g fill="none" stroke-width="0.8"><path d="M101.90 174.40L182.33 254.30" stroke="#bd67f1"/><path d="M182.33 254.30L229.37 249.40" stroke="#b463f2"/><path d="M229.37 249.40L262.75 244.80" stroke="#a85cf3"/><path d="M262.75 244.80L309.80 237.40" stroke="#7e45f6"/><path d="M309.80 237.40L343.18 231.40" stroke="#5a31f9"/><path d="M343.18 231.40L369.07 226.20" stroke="#3c21fb"/><path d="M369.07 226.20L390.23 220.80" stroke="#1d10fd"/><path d="M390.23 220.80L408.11 215.81" stroke="#0002fd"/><path d="M408.11 215.81L423.61 209.44" stroke="#0822dd"/><path d="M423.61 209.44L437.27 203.62" stroke="#1145ba"/><path d="M437.27 203.62L449.50 197.47" stroke="#1a6996"/><path d="M449.50 197.47L470.65 184.70" stroke="#259669"/><path d="M470.65 184.70L488.54 174.80" stroke="#2bb24d"/><path d="M488.54 174.80L517.70 160.20" stroke="#4dc82b"/><path d="M517.70 160.20L551.08 147.10" stroke="#a8b615"/><path d="M551.08 147.10L610.35 134.60" stroke="#ff8800"/></g>
<path fill="none" stroke="#c66cf1" stroke-width="0.8" d="M101.9 168L108.3 174.4L101.9 180.8L95.5 174.4Z"/>
<path fill="none" stroke="#bd67f1" stroke-width="0.8" d="M182.33 247.9L188.73 254.3L182.33 260.7L175.93 254.3Z"/>
<path fill="none" stroke="#b463f2" stroke-width="0.8" d="M229.37 243L235.77 249.4L229.37 255.8L222.97 249.4Z"/>
<path fill="none" stroke="#a85cf3" stroke-width="0.8" d="M262.75 238.4L269.15 244.8L262.75 251.2L256.35 244.8Z"/>
<path fill="none" stroke="#7e45f6" stroke-width="0.8" d="M309.8 231L316.2 237.4L309.8 243.8L303.4 237.4Z"/>
<path fill="none" stroke="#5a31f9" stroke-width="0.8" d="M343.18 225L349.58 231.4L343.18 237.8L336.78 231.4Z"/>
<path fill="none" stroke="#3c21fb" stroke-width="0.8" d="M369.07 219.8L375.47 226.2L369.07 232.6L362.67 226.2Z"/>
<path fill="none" stroke="#1d10fd" stroke-width="0.8" d="M390.23 214.4L396.63 220.8L390.23 227.2L383.83 220.8Z"/>
<path fill="none" stroke="#0002fd" stroke-width="0.8" d="M408.11 209.41L414.51 215.81L408.11 222.21L401.71 215.81Z"/>
<path fill="none" stroke="#a8b615" stroke-width="0.8" d="M551.08 140.7L557.48 147.1L551.08 153.5L544.68 147.1Z"/>
<path fill="none" stroke="#ff8800" stroke-width="0.8" d="M610.35 128.2L616.75 134.6L610.35 141L603.95 134.6Z"/>
<g fill="none" stroke-width="0.8"><path d="M101.90 174.00L182.33 253.90" stroke="#c169f1"/><path d="M182.33 253.90L229.37 249.00" stroke="#b864f2"/><path d="M229.37 249.00L262.75 244.40" stroke="#ab5ef3"/><path d="M262.75 244.40L309.80 237.00" stroke="#8146f6"/><path d="M309.80 237.00L343.18 231.00" stroke="#5c32f8"/><path d="M343.18 231.00L369.07 225.80" stroke="#3e22fb"/><path d="M369.07 225.80L390.23 220.40" stroke="#1f11fd"/><path d="M390.23 220.40L408.11 215.50" stroke="#0704ff"/><path d="M408.11 215.50L423.61 209.22" stroke="#0514eb"/><path d="M423.61 209.22L437.27 203.46" stroke="#0822dd"/><path d="M437.27 203.46L449.50 197.34" stroke="#0b2cd3"/><path d="M449.50 197.34L470.65 184.60" stroke="#0f3cc3"/><path d="M470.65 184.60L488.54 174.70" stroke="#134fb0"/><path d="M488.54 174.70L517.70 160.10" stroke="#279f60"/><path d="M517.70 160.10L551.08 143.40" stroke="#4dc82b"/><path d="M551.08 143.40L610.35 132.40" stroke="#bbb211"/></g>
<path fill="#ca6ef1" stroke="#ca6ef1" stroke-width="0.48" d="M101.9 167.6L108.3 174L101.9 180.4L95.5 174Z"/>
<path fill="#c169f1" stroke="#c169f1" stroke-width="0.48" d="M182.33 247.5L188.73 253.9L182.33 260.3L175.93 253.9Z"/>
<path fill="#b864f2" stroke="#b864f2" stroke-width="0.48" d="M229.37 242.6L235.77 249L229.37 255.4L222.97 249Z"/>
<path fill="#ab5ef3" stroke="#ab5ef3" stroke-width="0.48" d="M262.75 238L269.15 244.4L262.75 250.8L256.35 244.4Z"/>
<path fill="#8146f6" stroke="#8146f6" stroke-width="0.48" d="M309.8 230.6L316.2 237L309.8 243.4L303.4 237Z"/>
<path fill="#5c32f8" stroke="#5c32f8" stroke-width="0.48" d="M343.18 224.6L349.58 231L343.18 237.4L336.78 231Z"/>
<path fill="#3e22fb" stroke="#3e22fb" stroke-width="0.48" d="M369.07 219.4L375.47 225.8L369.07 232.2L362.67 225.8Z"/>
<path fill="#1f11fd" stroke="#1f11fd" stroke-width="0.48" d="M390.23 214L396.63 220.4L390.23 226.8L383.83 220.4Z"/>
<path fill="#0704ff" stroke="#0704ff" stroke-width="0.48" d="M408.11 209.1L414.51 215.5L408.11 221.9L401.71 215.5Z"/>
<path fill="#0514eb" stroke="#0514eb" stroke-width="0.48" d="M423.61 202.82L430.01 209.22L423.61 215.62L417.21 209.22Z"/>
<path fill="#0822dd" stroke="#0822dd" stroke-width="0.48" d="M437.27 197.06L443.67 203.46L437.27 209.86L430.87 203.46Z"/>
<path fill="#0b2cd3" stroke="#0b2cd3" stroke-width="0.48" d="M449.5 190.94L455.9 197.34L449.5 203.74L443.1 197.34Z"/>
<path fill="#0f3cc3" stroke="#0f3cc3" stroke-width="0.48" d="M470.65 178.2L477.05 184.6L470.65 191L464.25 184.6Z"/>
<path fill="#134fb0" stroke="#134fb0" stroke-width="0.48" d="M488.54 168.3L494.94 174.7L488.54 181.1L482.14 174.7Z"/>
<path fill="#279f60" stroke="#279f60" stroke-width="0.48" d="M517.7 153.7L524.1 160.1L517.7 166.5L511.3 160.1Z"/>
<path fill="#4dc82b" stroke="#4dc82b" stroke-width="0.48" d="M551.08 137L557.48 143.4L551.08 149.8L544.68 143.4Z"/>
<path fill="#bbb211" stroke="#bbb211" stroke-width="0.48" d="M610.35 126L616.75 132.4L610.35 138.8L603.95 132.4Z"/>
<path fill="none" stroke="#0822dd" stroke-width="0.8" d="M423.61 203.04L430.01 209.44L423.61 215.84L417.21 209.44Z"/>
<path fill="none" stroke="#1145ba" stroke-width="0.8" d="M437.27 197.22L443.67 203.62L437.27 210.02L430.87 203.62Z"/>
<path fill="none" stroke="#1a6996" stroke-width="0.8" d="M449.5 191.07L455.9 197.47L449.5 203.87L443.1 197.47Z"/>
<path fill="none" stroke="#259669" stroke-width="0.8" d="M470.65 178.3L477.05 184.7L470.65 191.1L464.25 184.7Z"/>
<path fill="none" stroke="#2bb24d" stroke-width="0.8" d="M488.54 168.4L494.94 174.8L488.54 181.2L482.14 174.8Z"/>
<path fill="none" stroke="#4dc82b" stroke-width="0.8" d="M517.7 153.8L524.1 160.2L517.7 166.6L511.3 160.2Z"/>
<g fill="none" stroke-width="0.8"><path d="M101.90 177.20L182.33 256.40" stroke="#cb6ff0"/><path d="M182.33 256.40L229.37 251.50" stroke="#c26af1"/><path d="M229.37 251.50L262.75 247.00" stroke="#b563f2"/><path d="M262.75 247.00L309.80 239.60" stroke="#884bf5"/><path d="M309.80 239.60L343.18 234.00" stroke="#6236f8"/><path d="M343.18 234.00L369.07 228.40" stroke="#4324fa"/><path d="M369.07 228.40L390.23 222.60" stroke="#2313fd"/><path d="M390.23 222.60L408.11 217.32" stroke="#0402ff"/><path d="M408.11 217.32L423.61 210.94" stroke="#061ae5"/><path d="M423.61 210.94L437.27 205.02" stroke="#0d34cb"/><path d="M437.27 205.02L449.50 198.81" stroke="#1451ae"/><path d="M449.50 198.81L470.65 186.00" stroke="#1e7b84"/><path d="M470.65 186.00L488.54 176.10" stroke="#259669"/><path d="M488.54 176.10L517.70 161.50" stroke="#32cd32"/><path d="M517.70 161.50L551.08 144.80" stroke="#69c225"/><path d="M551.08 144.80L610.35 138.30" stroke="#c3b10f"/></g>
<path fill="none" stroke="#d574f0" stroke-width="0.8" d="M101.9 170.6L108.46 175.37L105.96 183.08L97.84 183.08L95.34 175.37Z"/>
<path fill="none" stroke="#cb6ff0" stroke-width="0.8" d="M182.33 249.8L188.89 254.57L186.38 262.28L178.27 262.28L175.76 254.57Z"/>
<path fill="none" stroke="#c26af1" stroke-width="0.8" d="M229.37 244.9L235.94 249.67L233.43 257.38L225.32 257.38L222.81 249.67Z"/>
<path fill="none" stroke="#b563f2" stroke-width="0.8" d="M262.75 240.4L269.32 245.17L266.81 252.88L258.7 252.88L256.19 245.17Z"/>
<path fill="none" stroke="#884bf5" stroke-width="0.8" d="M309.8 233L316.36 237.77L313.85 245.48L305.74 245.48L303.24 237.77Z"/>
<path fill="none" stroke="#6236f8" stroke-width="0.8" d="M343.18 227.4L349.74 232.17L347.23 239.88L339.12 239.88L336.62 232.17Z"/>
<path fill="none" stroke="#4324fa" stroke-width="0.8" d="M369.07 221.8L375.63 226.57L373.13 234.28L365.02 234.28L362.51 226.57Z"/>
<path fill="none" stroke="#2313fd" stroke-width="0.8" d="M390.23 216L396.79 220.77L394.28 228.48L386.17 228.48L383.66 220.77Z"/>
<path fill="none" stroke="#0402ff" stroke-width="0.8" d="M408.11 210.72L414.67 215.49L412.17 223.2L404.06 223.2L401.55 215.49Z"/>
<path fill="none" stroke="#061ae5" stroke-width="0.8" d="M423.61 204.34L430.17 209.11L427.66 216.82L419.55 216.82L417.04 209.11Z"/>
<path fill="none" stroke="#0d34cb" stroke-width="0.8" d="M437.27 198.42L443.83 203.19L441.33 210.9L433.22 210.9L430.71 203.19Z"/>
<path fill="none" stroke="#1451ae" stroke-width="0.8" d="M449.5 192.21L456.06 196.98L453.55 204.69L445.44 204.69L442.93 196.98Z"/>
<path fill="none" stroke="#1e7b84" stroke-width="0.8" d="M470.65 179.4L477.21 184.17L474.71 191.88L466.6 191.88L464.09 184.17Z"/>
<path fill="none" stroke="#259669" stroke-width="0.8" d="M488.54 169.5L495.1 174.27L492.59 181.98L484.48 181.98L481.98 174.27Z"/>
<path fill="none" stroke="#32cd32" stroke-width="0.8" d="M517.7 154.9L524.26 159.67L521.75 167.38L513.64 167.38L511.14 159.67Z"/>
<path fill="none" stroke="#69c225" stroke-width="0.8" d="M551.08 138.2L557.64 142.97L555.13 150.68L547.02 150.68L544.52 142.97Z"/>
<path fill="none" stroke="#c3b10f" stroke-width="0.8" d="M610.35 131.7L616.91 136.47L614.41 144.18L606.29 144.18L603.79 136.47Z"/>
<rect x="101.90" y="20.70" width="508.45" height="435.50" fill="none" stroke="#000" stroke-width="1.4"/>
<defs><linearGradient id="pg" x1="0" y1="0" x2="0" y2="1"><stop offset="0.00" stop-color="#ff0000"/><stop offset="0.25" stop-color="#ffa500"/><stop offset="0.50" stop-color="#32cd32"/><stop offset="0.75" stop-color="#0000ff"/><stop offset="1.00" stop-color="#ee82ee"/></linearGradient><pattern id="ps" width="8" height="2" y="20.70" patternUnits="userSpaceOnUse"><rect width="8" height="1" fill="#fff" opacity="0.14"/></pattern></defs>
<rect x="623.20" y="20.70" width="25.40" height="435.50" fill="url(#pg)"/>
<rect x="623.20" y="20.70" width="25.40" height="435.50" fill="url(#ps)"/>
<path d="M623.20 456.20V20.70H648.60" fill="none" stroke="#aaa" stroke-width="0.5"/>
<path d="M648.60 20.70V456.20H623.20" fill="none" stroke="#000" stroke-width="0.6"/>
<text transform="translate(666.30 28.05) scale(0.935 1)" font-size="22" text-anchor="start">110</text>
<text transform="translate(666.30 100.63) scale(0.935 1)" font-size="22" text-anchor="start">105</text>
<text transform="translate(666.30 173.22) scale(0.935 1)" font-size="22" text-anchor="start">100</text>
<text transform="translate(666.30 245.80) scale(0.935 1)" font-size="22" text-anchor="start">95</text>
<text transform="translate(666.30 318.38) scale(0.935 1)" font-size="22" text-anchor="start">90</text>
<text transform="translate(666.30 390.97) scale(0.935 1)" font-size="22" text-anchor="start">85</text>
<text transform="translate(666.30 463.55) scale(0.935 1)" font-size="22" text-anchor="start">80</text>
<path d="M623.20 20.70h6.2M648.60 20.70h-6.2M623.20 93.28h6.2M648.60 93.28h-6.2M623.20 165.87h6.2M648.60 165.87h-6.2M623.20 238.45h6.2M648.60 238.45h-6.2M623.20 311.03h6.2M648.60 311.03h-6.2M623.20 383.62h6.2M648.60 383.62h-6.2M623.20 456.20h6.2M648.60 456.20h-6.2" stroke="#000" stroke-width="0.7" fill="none"/>
<text transform="translate(88.30 168.60) scale(0.935 1)" font-size="22" text-anchor="end">1</text>
<text transform="translate(88.30 463.40) scale(0.935 1)" font-size="22" text-anchor="end">0.1</text>
<text transform="translate(265.50 485.20) scale(0.935 1)" font-size="22" text-anchor="middle">10</text>
<text transform="translate(533.00 485.20) scale(0.935 1)" font-size="22" text-anchor="middle">100</text>
<text x="267.0" y="515.2" font-size="20.7">Thermal Inertia (SIu)</text>
<text transform="translate(27.6 287.6) rotate(-90)" font-size="20.7">Reduced <tspan font-style="italic" font-size="22">χ</tspan><tspan dy="-9.5" font-size="16.5">2</tspan></text>
<text transform="translate(724.2 343.2) rotate(-90)" font-size="20.7">Optimised diameter (km)</text>
</svg></body></html>
